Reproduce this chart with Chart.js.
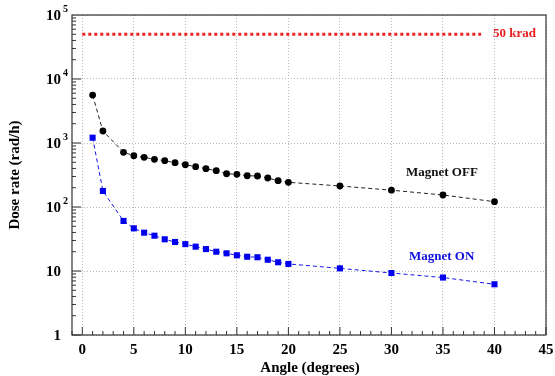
<!DOCTYPE html>
<html><head><meta charset="utf-8">
<script src="https://cdn.jsdelivr.net/npm/chart.js@4/dist/chart.umd.min.js"></script>
<style>html,body{margin:0;padding:0;background:#fff}</style>
</head><body>
<canvas id="c" width="555" height="376"></canvas>
<script>
const angles = [1,2,4,5,6,7,8,9,10,11,12,13,14,15,16,17,18,19,20,25,30,35,40];
const magnetOff = [5600,1540,716,632,598,556,529,492,458,426,397,369,331,324,308,305,284,258,243,213,183,154,121];
const magnetOn = [1210,178,60.5,46.4,39.7,35.6,31.3,28.4,26.3,24,22,20,18.9,17.6,16.7,16.4,15.0,13.7,12.9,11.0,9.3,7.9,6.2];
const limitX = [0, 38.7];
const limitValue = 50000;
const xTickValues = [0,5,10,15,20,25,30,35,40,45];
const yDecades = [1,10,100,1000,10000,100000];
const yExponents = ['', '', '2', '3', '4', '5'];
const seriesLabels = ['Magnet OFF', 'Magnet ON', '50 krad'];

const FONT = '"Liberation Serif", "DejaVu Serif", serif';

const decor = {
  id: 'decor',
  afterDraw(chart) {
    const ctx = chart.ctx, a = chart.chartArea;
    const xs = chart.scales.x, ys = chart.scales.y;
    ctx.save();
    // frame
    ctx.strokeStyle = '#333'; ctx.lineWidth = 1.2; ctx.setLineDash([]);
    ctx.strokeRect(a.left, a.top, a.right - a.left, a.bottom - a.top);
    // x minor ticks
    ctx.lineWidth = 1;
    for (let v = -1; v <= 45; v++) {
      const px = xs.getPixelForValue(v);
      const len = (v % 5 === 0) ? 8 : 4;
      ctx.beginPath(); ctx.moveTo(px, a.bottom); ctx.lineTo(px, a.bottom - len); ctx.stroke();
    }
    // y minor ticks
    for (let d = 0; d < 5; d++) {
      for (let m = 1; m <= 9; m++) {
        const val = m * Math.pow(10, d);
        const py = ys.getPixelForValue(val);
        const len = m === 1 ? 9 : 4;
        ctx.beginPath(); ctx.moveTo(a.left, py); ctx.lineTo(a.left + len, py); ctx.stroke();
      }
    }
    // x labels
    ctx.fillStyle = '#000';
    ctx.font = 'bold 15px ' + FONT;
    ctx.textAlign = 'center'; ctx.textBaseline = 'middle';
    xTickValues.forEach(v => ctx.fillText(String(v), xs.getPixelForValue(v), 350));
    // y labels
    yDecades.forEach((v, i) => {
      const py = ys.getPixelForValue(v);
      ctx.textAlign = 'right'; ctx.font = 'bold 15px ' + FONT;
      ctx.fillText(i === 0 ? '1' : '10', 61, py + 1);
      if (yExponents[i]) {
        ctx.textAlign = 'left'; ctx.font = 'bold 10px ' + FONT;
        ctx.fillText(yExponents[i], 63, py - 6);
      }
    });
    // axis titles
    ctx.font = 'bold 15px ' + FONT; ctx.textAlign = 'center';
    ctx.fillText('Angle (degrees)', 310, 368);
    ctx.save();
    ctx.translate(15, 175); ctx.rotate(-Math.PI / 2);
    ctx.fillText('Dose rate (rad/h)', 0, 0);
    ctx.restore();
    // series labels
    ctx.font = 'bold 13px ' + FONT; ctx.textAlign = 'left';
    ctx.fillStyle = '#111';
    ctx.fillText(seriesLabels[0], 406, 173);
    ctx.fillStyle = '#1010e0';
    ctx.fillText(seriesLabels[1], 409, 257);
    ctx.fillStyle = '#e82020';
    ctx.fillText(seriesLabels[2], 493, 34);
    ctx.restore();
  }
};

new Chart(document.getElementById('c'), {
  type: 'scatter',
  data: {
    datasets: [
      {
        label: seriesLabels[2],
        data: limitX.map(x => ({x, y: limitValue})),
        showLine: true, borderColor: '#ee2222', borderWidth: 3, borderDash: [3, 3],
        pointRadius: 0, fill: false
      },
      {
        label: seriesLabels[0],
        data: angles.map((x, i) => ({x, y: magnetOff[i]})),
        showLine: true, borderColor: '#222', borderWidth: 1, borderDash: [4, 3],
        pointStyle: 'circle', pointRadius: 3.4, pointBackgroundColor: '#000', pointBorderColor: '#000', pointBorderWidth: 0
      },
      {
        label: seriesLabels[1],
        data: angles.map((x, i) => ({x, y: magnetOn[i]})),
        showLine: true, borderColor: '#1515e8', borderWidth: 1, borderDash: [4, 3],
        pointStyle: 'rect', pointRadius: 4.3, pointBackgroundColor: '#0000ee', pointBorderColor: '#0000ee', pointBorderWidth: 0
      }
    ]
  },
  options: {
    responsive: false, animation: false, devicePixelRatio: 1,
    layout: { padding: { top: 15, right: 9, left: 0, bottom: 0 } },
    plugins: { legend: { display: false }, tooltip: { enabled: false } },
    scales: {
      x: {
        type: 'linear', min: -1, max: 45,
        afterBuildTicks: s => { s.ticks = xTickValues.map(v => ({ value: v })); },
        afterFit: s => { s.height = 41; },
        ticks: { display: false },
        grid: { color: '#b8b8b8', lineWidth: 1, drawTicks: false },
        border: { display: false, dash: [1, 2] }
      },
      y: {
        type: 'logarithmic', min: 1, max: 100000,
        afterBuildTicks: s => { s.ticks = yDecades.map(v => ({ value: v })); },
        afterFit: s => { s.width = 72; },
        ticks: { display: false },
        grid: { color: '#b8b8b8', lineWidth: 1, drawTicks: false },
        border: { display: false, dash: [1, 2] }
      }
    }
  },
  plugins: [decor]
});
</script>
</body></html>
